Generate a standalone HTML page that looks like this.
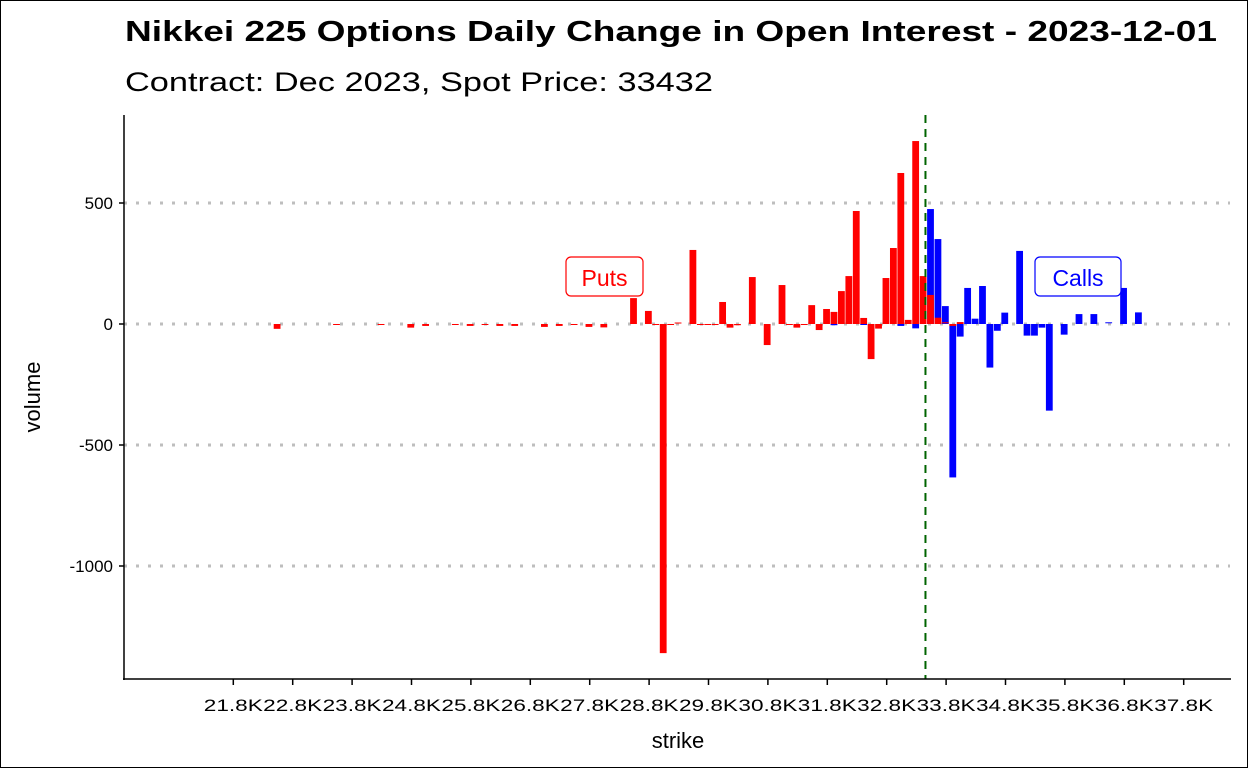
<!DOCTYPE html>
<html><head><meta charset="utf-8"><style>
body{margin:0;background:#fff}
svg{display:block;font-family:"Liberation Sans",Arial,sans-serif}
</style></head><body>
<svg id="chart" width="1248" height="768" viewBox="0 0 1248 768">
<rect x="0.5" y="0.5" width="1247" height="767" fill="#fff" stroke="#000"/>
<text x="125" y="41" font-size="29" font-weight="bold" textLength="1092" lengthAdjust="spacingAndGlyphs">Nikkei 225 Options Daily Change in Open Interest - 2023-12-01</text>
<text x="125" y="91" font-size="27" textLength="588" lengthAdjust="spacingAndGlyphs">Contract: Dec 2023, Spot Price: 33432</text>
<g id="grid"></g><g id="calls"></g><g id="puts"></g><g id="axes"></g>
<text x="678" y="748" font-size="22" text-anchor="middle">strike</text>
<text transform="translate(40,397) rotate(-90)" font-size="22" text-anchor="middle">volume</text>
<g><rect x="566" y="257" width="77" height="39" rx="5" fill="#fff" stroke="#f00" stroke-width="1.2"/><text x="604.5" y="286" font-size="23" fill="#f00" text-anchor="middle">Puts</text></g>
<g><rect x="1035" y="257" width="86" height="39" rx="5" fill="#fff" stroke="#00f" stroke-width="1.2"/><text x="1078" y="286" font-size="23" fill="#00f" text-anchor="middle">Calls</text></g>
</svg>
<script>
const putStrikes=[22500,23500,24250,24750,25000,25500,25750,26000,26250,26500,27000,27250,27500,27750,28000,28500,28750,28875,29000,29125,29250,29500,29625,29750,29875,30000,30125,30250,30500,30750,31000,31125,31250,31375,31500,31625,31750,31875,32000,32125,32250,32375,32500,32625,32750,32875,33000,33125,33250,33375,33500,33625,33750,33875,34000];
const putValues=[-20,-3,-3,-15,-8,-3,-8,-3,-8,-8,-12,-8,-3,-12,-14,107,54,-3,-1360,-2,2,306,-2,-2,-4,91,-15,-5,194,-87,161,-2,-15,-2,78,-25,62,50,136,198,467,25,-145,-19,190,314,624,17,756,198,120,26,3,-8,8];
const callStrikes=[31875,32375,33000,33250,33500,33625,33750,33875,34000,34125,34250,34375,34500,34625,34750,35000,35125,35250,35375,35500,35750,36000,36250,36500,36750,37000];
const callValues=[-5,-3,-8,-18,475,351,74,-634,-52,149,22,157,-180,-28,47,302,-48,-48,-15,-358,-44,41,41,3,149,48];
const tickVals=[21762.5,22762.5,23762.5,24762.5,25762.5,26762.5,27762.5,28762.5,29762.5,30762.5,31762.5,32762.5,33762.5,34762.5,35762.5,36762.5,37762.5];
const tickLabels=["21.8K","22.8K","23.8K","24.8K","25.8K","26.8K","27.8K","28.8K","29.8K","30.8K","31.8K","32.8K","33.8K","34.8K","35.8K","36.8K","37.8K"];
const yTicks=[500,0,-500,-1000];
const yTickLabels=["500","0","-500","-1000"];
const spot=33432;
const NS='http://www.w3.org/2000/svg';
const X=s=>233.3+(s-21762.5)*0.0594;
const Y=v=>324-v*0.242;
const BW=6.8;
function mk(tag,attrs,parent){const e=document.createElementNS(NS,tag);for(const k in attrs)e.setAttribute(k,attrs[k]);document.getElementById(parent).appendChild(e);return e;}
yTicks.forEach((v,i)=>{
 const g=mk('line',{x1:124,x2:1230,y1:Y(v),y2:Y(v),stroke:'#bebebe','stroke-width':3,'stroke-dasharray':'3 9'},'grid');
 
 
 const t=mk('text',{x:113,y:Y(v)+6,'font-size':17,'text-anchor':'end'},'axes');t.textContent=yTickLabels[i];
 
 
 mk('line',{x1:119,x2:124,y1:Y(v),y2:Y(v),stroke:'#000','stroke-width':1.5},'axes');
});
function bars(strikes,vals,color,parent,name){
 strikes.forEach((s,i)=>{const v=vals[i];const y0=Y(Math.max(v,0)),h=Math.max(Math.abs(v)*0.242,1);
  const r=mk('rect',{x:X(s)-BW/2,y:v>=0?y0-(Math.abs(v)*0.242<1?1:0):Y(0),width:BW,height:h,fill:color},parent);
  
  });
}
bars(callStrikes,callValues,'#0000ff','calls','call-bar');
bars(putStrikes,putValues,'#ff0000','puts','put-bar');
const sl=mk('line',{x1:X(spot)-1,x2:X(spot)-1,y1:115,y2:679,stroke:'#006400','stroke-width':2,'stroke-dasharray':'8 6'},'axes');


const ya=mk('line',{x1:124,x2:124,y1:115,y2:680,stroke:'#000','stroke-width':1.5},'axes');


const xa=mk('line',{x1:123,x2:1231,y1:679,y2:679,stroke:'#000','stroke-width':1.5},'axes');


tickVals.forEach((v,i)=>{
 mk('line',{x1:X(v),x2:X(v),y1:679,y2:685,stroke:'#000','stroke-width':1.5},'axes');
 const t=mk('text',{x:X(v),y:711,'font-size':17,'text-anchor':'middle',textLength:59,lengthAdjust:'spacingAndGlyphs'},'axes');t.textContent=tickLabels[i];
 
 
});
</script>
</body></html>
